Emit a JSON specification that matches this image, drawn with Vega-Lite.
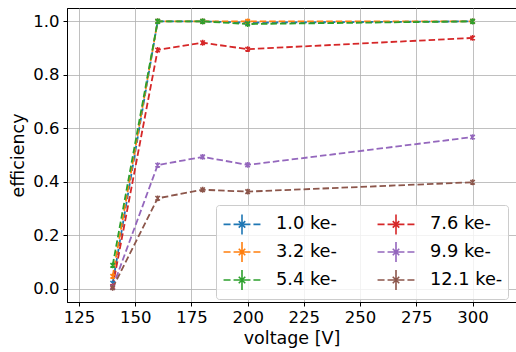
{
  "$schema": "https://vega.github.io/schema/vega-lite/v6.json",
  "width": 449,
  "height": 294,
  "autosize": {"type": "none"},
  "padding": {"left": 67, "top": 8, "right": 0, "bottom": 50},
  "background": "white",
  "config": {
    "font": "DejaVu Sans",
    "view": {"stroke": "black", "strokeWidth": 1},
    "axis": {
      "domainColor": "black",
      "domainWidth": 1,
      "tickColor": "black",
      "tickWidth": 1,
      "tickSize": 4,
      "gridColor": "#b0b0b0",
      "gridWidth": 0.8,
      "labelFont": "DejaVu Sans",
      "labelFontSize": 16.5,
      "labelColor": "black",
      "titleFont": "DejaVu Sans",
      "titleFontSize": 17.5,
      "titleFontWeight": "normal",
      "titleColor": "black"
    }
  },
  "data": {
    "values": [
      {"voltage": 140, "efficiency": 0.02, "energy": "1.0 ke-"},
      {"voltage": 160, "efficiency": 1.0, "energy": "1.0 ke-"},
      {"voltage": 180, "efficiency": 1.0, "energy": "1.0 ke-"},
      {"voltage": 200, "efficiency": 0.995, "energy": "1.0 ke-"},
      {"voltage": 300, "efficiency": 1.0, "energy": "1.0 ke-"},
      {"voltage": 140, "efficiency": 0.046, "energy": "3.2 ke-"},
      {"voltage": 160, "efficiency": 1.0, "energy": "3.2 ke-"},
      {"voltage": 180, "efficiency": 1.0, "energy": "3.2 ke-"},
      {"voltage": 200, "efficiency": 1.0, "energy": "3.2 ke-"},
      {"voltage": 300, "efficiency": 1.0, "energy": "3.2 ke-"},
      {"voltage": 140, "efficiency": 0.087, "energy": "5.4 ke-"},
      {"voltage": 160, "efficiency": 1.0, "energy": "5.4 ke-"},
      {"voltage": 180, "efficiency": 1.0, "energy": "5.4 ke-"},
      {"voltage": 200, "efficiency": 0.99, "energy": "5.4 ke-"},
      {"voltage": 300, "efficiency": 1.0, "energy": "5.4 ke-"},
      {"voltage": 140, "efficiency": 0.008, "energy": "7.6 ke-"},
      {"voltage": 160, "efficiency": 0.893, "energy": "7.6 ke-"},
      {"voltage": 180, "efficiency": 0.92, "energy": "7.6 ke-"},
      {"voltage": 200, "efficiency": 0.896, "energy": "7.6 ke-"},
      {"voltage": 300, "efficiency": 0.938, "energy": "7.6 ke-"},
      {"voltage": 140, "efficiency": 0.005, "energy": "9.9 ke-"},
      {"voltage": 160, "efficiency": 0.462, "energy": "9.9 ke-"},
      {"voltage": 180, "efficiency": 0.493, "energy": "9.9 ke-"},
      {"voltage": 200, "efficiency": 0.463, "energy": "9.9 ke-"},
      {"voltage": 300, "efficiency": 0.567, "energy": "9.9 ke-"},
      {"voltage": 140, "efficiency": 0.003, "energy": "12.1 ke-"},
      {"voltage": 160, "efficiency": 0.338, "energy": "12.1 ke-"},
      {"voltage": 180, "efficiency": 0.37, "energy": "12.1 ke-"},
      {"voltage": 200, "efficiency": 0.363, "energy": "12.1 ke-"},
      {"voltage": 300, "efficiency": 0.398, "energy": "12.1 ke-"}
    ]
  },
  "encoding": {
    "x": {
      "field": "voltage",
      "type": "quantitative",
      "title": "voltage [V]",
      "scale": {"domain": [119.7, 319.3], "nice": false, "zero": false},
      "axis": {"values": [125, 150, 175, 200, 225, 250, 275, 300], "titlePadding": 4, "labelPadding": 3}
    },
    "y": {
      "field": "efficiency",
      "type": "quantitative",
      "title": "efficiency",
      "scale": {"domain": [-0.05, 1.05], "nice": false, "zero": false},
      "axis": {"values": [0, 0.2, 0.4, 0.6, 0.8, 1.0], "format": ".1f", "titlePadding": 5, "labelPadding": 4}
    },
    "color": {
      "field": "energy",
      "type": "nominal",
      "scale": {
        "domain": ["1.0 ke-", "3.2 ke-", "5.4 ke-", "7.6 ke-", "9.9 ke-", "12.1 ke-"],
        "range": ["#1f77b4", "#ff7f0e", "#2ca02c", "#d62728", "#9467bd", "#8c564b"]
      },
      "legend": {
        "title": null,
        "orient": "none",
        "legendX": 149,
        "legendY": 197,
        "columns": 2,
        "columnPadding": 37,
        "rowPadding": 0,
        "padding": 5,
        "fillColor": "rgba(255,255,255,0.8)",
        "strokeColor": "#cccccc",
        "cornerRadius": 3,
        "symbolType": "M-1.42,0H-0.88M-0.65,0H-0.11M0.11,0H0.65M0.88,0H1.42M0,-0.77V0.77M-0.25,-0.25L0.25,0.25M-0.25,0.25L0.25,-0.25",
        "symbolSize": 676,
        "symbolStrokeWidth": 1.6,
        "symbolFillColor": "transparent",
        "symbolOffset": 7,
        "labelFont": "DejaVu Sans",
        "labelFontSize": 17.8,
        "labelColor": "black",
        "labelOffset": 20
      }
    }
  },
  "layer": [
    {
      "mark": {"type": "line", "strokeWidth": 1.8, "strokeDash": [6.5, 3]}
    },
    {
      "mark": {
        "type": "point",
        "filled": false,
        "shape": "M-1,-1L1,1M-1,1L1,-1M0,-1.3V1.3",
        "size": 20,
        "strokeWidth": 1.5,
        "opacity": 1
      }
    }
  ]
}
